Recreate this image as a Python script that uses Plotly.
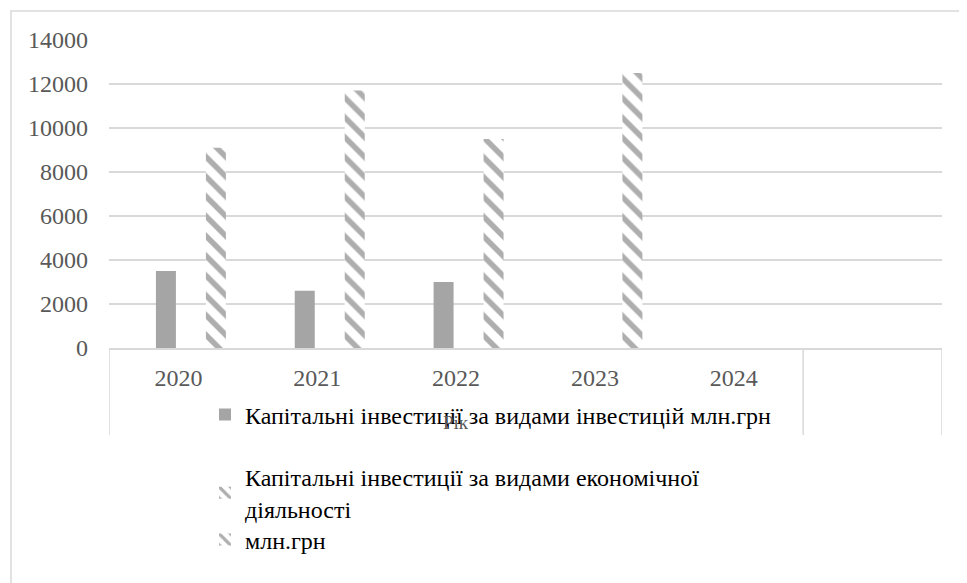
import plotly.graph_objects as go

years = ["2020", "2021", "2022", "2023", "2024"]
invest_by_type = [3500, 2600, 3000, None, None]
invest_by_activity = [None, None, None, None, None]
mln_uah = [9100, 11700, 9500, 12500, None]

name_type = "Капітальні інвестиції за видами інвестицій млн.грн"
name_activity = "Капітальні інвестиції за видами економічної<br>діяльності"
name_mln = "млн.грн"

y_ticks = [0, 2000, 4000, 6000, 8000, 10000, 12000, 14000]

FONT = "Liberation Serif, 'Times New Roman', Times, serif"
GRID = "#d9d9d9"
TXT = "#595959"

# page body has an 8px margin; work in page pixels and shift
OFF = 8
W, H = 967 - OFF, 583 - OFF
PL, PR, PT, PB = 109, 942, 40, 348  # plot area in page pixels
L, R, T, B = PL - OFF, W - (PR - OFF), PT - OFF, H - (PB - OFF)
PW, PH = PR - PL, PB - PT


def px_x(px):
    return (px - PL) / PW


def px_y(py):
    return (PB - py) / PH


hatch = dict(shape="\\", fgcolor="#5e5e5e", bgcolor="white", size=14, solidity=0.4)

fig = go.Figure()
fig.add_trace(go.Bar(
    x=years, y=invest_by_type, name=name_type,
    marker=dict(color="#a5a5a5", line=dict(width=0)),
    width=0.144, offset=-0.162, legend="legend",
))
fig.add_trace(go.Bar(
    x=years, y=invest_by_activity, name=name_activity,
    marker=dict(color="white", pattern=hatch, line=dict(width=0)),
    width=0.144, offset=0.018, legend="legend2",
))
fig.add_trace(go.Bar(
    x=years, y=mln_uah, name=name_mln,
    marker=dict(color="white", pattern=hatch, line=dict(width=0)),
    width=0.144, offset=0.198, legend="legend3",
))

leg_common = dict(
    xanchor="left", yanchor="middle", bgcolor="rgba(0,0,0,0)",
    font=dict(family=FONT, size=24, color="black"), borderwidth=0,
)

fig.update_layout(
    width=W, height=H, autosize=False,
    margin=dict(l=L, r=R, t=T, b=B, pad=0),
    paper_bgcolor="white", plot_bgcolor="white",
    barmode="overlay",
    font=dict(family=FONT, color=TXT),
    showlegend=True,
    legend=dict(x=px_x(205), y=px_y(415), **leg_common),
    legend2=dict(x=px_x(205), y=px_y(493), **leg_common),
    legend3=dict(x=px_x(205), y=px_y(540), **leg_common),
    xaxis=dict(
        type="category", categoryorder="array", categoryarray=years,
        range=[-0.5, 5.5], showgrid=False, showline=True, linecolor=GRID,
        linewidth=1.5, ticks="", tickfont=dict(family=FONT, size=24, color=TXT),
        ticklabelstandoff=7, fixedrange=True,
    ),
    yaxis=dict(
        range=[0, 14000], tickvals=y_ticks, tickformat="d", showgrid=True,
        gridcolor=GRID, gridwidth=1.5, zeroline=False, showline=False,
        ticks="", tickfont=dict(family=FONT, size=24, color=TXT),
        ticklabelstandoff=20, fixedrange=True,
    ),
)

# category divider lines below the axis (Excel-style)
for xv in [-0.5, 4.5, 5.5]:
    fig.add_shape(type="line", xref="x", yref="paper", x0=xv, x1=xv,
                  y0=0, y1=px_y(435), line=dict(color=GRID, width=1.5))

# chart border
fig.add_shape(type="rect", xref="paper", yref="paper",
              x0=px_x(11), x1=px_x(990), y0=px_y(11), y1=px_y(600),
              line=dict(color=GRID, width=1.5), layer="below")

fig.add_annotation(text="Рік", xref="paper", yref="paper", x=px_x(456),
                   y=px_y(422), showarrow=False,
                   font=dict(family=FONT, size=19, color=TXT),
                   xanchor="center", yanchor="middle")

fig.write_html("out.html")
